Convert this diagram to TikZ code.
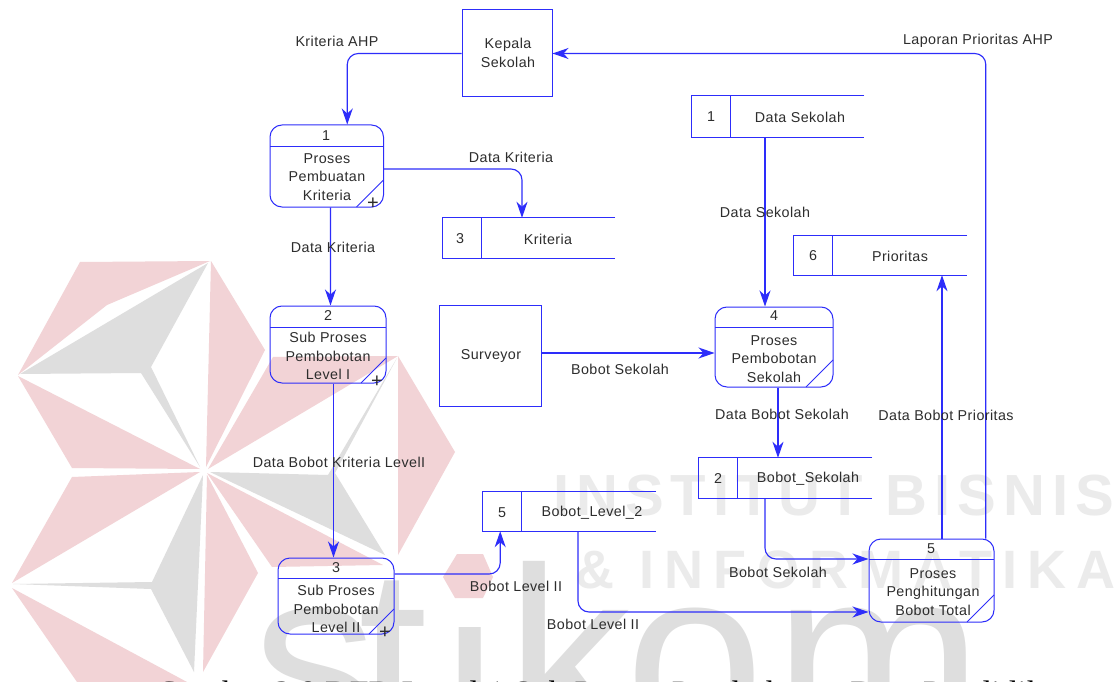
\documentclass[tikz,border=0pt]{standalone}
\usepackage{fontspec}
\setmainfont[LetterSpace=3]{Liberation Sans}
\newfontfamily\capfont{Liberation Serif}
\newfontfamily\wmbold[LetterSpace=12]{Liberation Sans Bold}
\newfontfamily\wmboldb[LetterSpace=19]{Liberation Sans Bold}
\newfontfamily\wmbig{Liberation Sans}
\usetikzlibrary{arrows.meta,fit}
\definecolor{dfd}{RGB}{45,45,250}
\definecolor{txt}{RGB}{45,45,45}
\definecolor{wmpink}{RGB}{242,211,214}
\definecolor{wmgray}{RGB}{222,222,222}
\definecolor{wmtext}{RGB}{235,235,235}
\tikzset{
  lbl/.style={text=txt,inner sep=0pt,font=\fontsize{14.3}{18.4}\selectfont,align=center},
  proc/.style={draw=dfd,line width=1pt,rounded corners=12pt,inner sep=0pt},
  ext/.style={draw=dfd,line width=1pt,inner sep=0pt},
  storebox/.style={inner sep=0pt},
  part/.style={draw=dfd,line width=1pt},
  flow/.style={draw=dfd,line width=1.15pt,rounded corners=11pt,-{Stealth[length=16pt,width=11pt,inset=5pt]}},
  pinkp/.style={fill=wmpink},
  grayp/.style={fill=wmgray},
  plusn/.style={text=txt,inner sep=0pt,font=\fontsize{20}{20}\selectfont},
  wmletter/.style={anchor=base west,inner sep=0pt,text=wmgray,font=\wmbig\fontsize{250}{250}\selectfont}
}
\newcommand{\Proc}[8]{% name x1 y1 x2 y2 yline unused diagonal size
  \node[proc,fit={(#2,#3)(#4,#5)}] (#1) {};
  \coordinate (#1h1) at (#2,#6);
  \coordinate (#1h2) at (#4,#6);
  \coordinate (#1d1) at ({#4-#8},#5);
  \coordinate (#1d2) at (#4,{#5-#8});
  \draw[part] (#1h1) -- (#1h2);
  \draw[part] (#1d1) -- (#1d2);
}
\newcommand{\Store}[6]{% name x1 y1 x2 y2 xdiv
  \node[storebox,fit={(#2,#3)(#4,#5)}] (#1) {};
  \coordinate (#1d1) at (#6,#3);
  \coordinate (#1d2) at (#6,#5);
  \draw[part] (#1.north east) -- (#1.north west) -- (#1.south west) -- (#1.south east);
  \draw[part] (#1d1) -- (#1d2);
}
\begin{document}
\begin{tikzpicture}[x=1pt,y=-1pt]
\useasboundingbox (0,0) rectangle (1117,682);
\clip (0,0) rectangle (1117,682);
\fill[white] (0,0) rectangle (1117,682);
% watermark: star
\fill[pinkp] (80,262) -- (210,261) -- (107,305) -- (18,375) -- cycle;
\fill[grayp] (208,263) -- (20,374) -- (141,373) -- (200,467) -- (151,367) -- cycle;
\fill[pinkp] (18,376) -- (200,469) -- (72,468) -- cycle;
\fill[pinkp] (211,261) -- (265,350) -- (206,467) -- cycle;
\fill[pinkp] (273,357) -- (398,356) -- (208,469) -- cycle;
\fill[grayp] (397,358) -- (335,473) -- (385,555) -- (210,472) -- (328,475) -- cycle;
\fill[pinkp] (398,356) -- (455,452) -- (398,555) -- cycle;
\fill[pinkp] (207,473) -- (383,565) -- (272,567) -- cycle;
\fill[pinkp] (207,475) -- (258,573) -- (203,672) -- cycle;
\fill[grayp] (203,475) -- (152,582) -- (13,584) -- (151,589) -- (194,672) -- cycle;
\fill[pinkp] (200,472) -- (72,477) -- (12,583) -- cycle;
\fill[pinkp] (12,588) -- (187,682) -- (77,682) -- cycle;
\fill[pinkp] (457,554) -- (483,554) -- (493,577) -- (483,598) -- (455,598) -- (443,577) -- cycle;
% watermark: words
\node[wmletter] (wms) at (252,742) {s};
\node[wmletter] (wmt) at (358,742) {t};
\begin{scope}
  \clip (440,627) rectangle (500,682);
  \node[wmletter] (wmi) at (442,742) {i};
\end{scope}
\node[wmletter] (wmk) at (506,742) {k};
\node[wmletter] (wmo) at (625,742) {o};
\node[wmletter] (wmm) at (774,742) {m};
\node[anchor=base west,inner sep=0pt,text=wmtext] (wmline1) at (553,515) {\wmbold\fontsize{58}{58}\selectfont INSTITUT BISNIS};
\node[anchor=base west,inner sep=0pt,text=wmtext] (wmline2) at (575,588) {\wmboldb\fontsize{54}{54}\selectfont \& INFORMATIKA};
% caption, cut by the page edge
\node[anchor=base west,inner sep=0pt,text=black] (caption) at (156,704) {\capfont\fontsize{34}{34}\selectfont Gambar 3.8 DFD Level 1 Sub Proses Pembobotan Data Pendidikan};
% external entities
\node[ext,fit={(462,10)(552,97)}] (kepala) {};
\node[lbl] (kepalat) at (508,53) {Kepala\\Sekolah};
\node[ext,fit={(439,305)(541,406)}] (surveyor) {};
\node[lbl] (surveyort) at (491,356) {Surveyor};
% processes
\Proc{pa}{270}{125}{383.5}{207}{147}{0}{27}
\Proc{pb}{270}{306}{386}{383}{327}{0}{25}
\Proc{pc}{278}{558}{394}{634}{578}{0}{25}
\Proc{pd}{715}{307}{833}{387}{327}{0}{27}
\Proc{pe}{869}{539}{994}{622}{559}{0}{27}
\node[lbl] (pan) at (326,136) {1};
\node[lbl] (pat) at (327,177) {Proses\\Pembuatan\\Kriteria};
\node[plusn] (pap) at (373,204) {+};
\node[lbl] (pbn) at (328,316) {2};
\node[lbl] (pbt) at (328,356) {Sub Proses\\Pembobotan\\Level I};
\node[plusn] (pbp) at (377,382) {+};
\node[lbl] (pcn) at (336,568) {3};
\node[lbl] (pct) at (336,609) {Sub Proses\\Pembobotan\\Level II};
\node[plusn] (pcp) at (385,633) {+};
\node[lbl] (pdn) at (774,316) {4};
\node[lbl] (pdt) at (774,359) {Proses\\Pembobotan\\Sekolah};
\node[lbl] (pen) at (931,549) {5};
\node[lbl] (pet) at (933,592) {Proses\\Penghitungan\\Bobot Total};
% data stores
\Store{sa}{692}{96}{864}{137}{730}
\Store{sb}{699}{458}{872}{498}{737}
\Store{sc}{443}{218}{615}{258}{481}
\Store{sd}{483}{492}{656}{531}{521}
\Store{se}{794}{236}{967}{275}{832}
\node[lbl] (san) at (711,117) {1};
\node[lbl] (sat) at (800,117) {Data Sekolah};
\node[lbl] (sbn) at (718,479) {2};
\node[lbl] (sbt) at (808,479) {Bobot\_Sekolah};
\node[lbl] (scn) at (460,239) {3};
\node[lbl] (sct) at (548,239) {Kriteria};
\node[lbl] (sdn) at (502,513) {5};
\node[lbl] (sdt) at (592,513) {Bobot\_Level\_2};
\node[lbl] (sen) at (813,256) {6};
\node[lbl] (set) at (900,256) {Prioritas};
% connectors
\draw[flow] (kepala.west) -| ([xshift=20.5pt]pa.north);
\draw[flow] ([xshift=54.3pt]pe.north) |- (kepala.east);
\draw[flow] ([yshift=-3pt]pa.east) -| ([xshift=-7pt]sc.north);
\draw[flow] ([xshift=3.7pt]pa.south) -- ([xshift=2.5pt]pb.north);
\draw[flow] ([xshift=5.5pt]pb.south) -- ([xshift=-2.5pt]pc.north);
\draw[flow] ([yshift=22pt]pc.east) -| ([xshift=-156pt]sd.south east);
\draw[flow] ([xshift=8.5pt]sd.south) |- ([yshift=-31.5pt]pe.west);
\draw[flow] ([xshift=-20.5pt]sb.south) |- ([yshift=21.5pt]pe.west);
\draw[flow] ([xshift=-13pt]sa.south) -- ([xshift=-9pt]pd.north);
\draw[flow] ([yshift=2.5pt]surveyor.east) -- ([yshift=-6pt]pd.west);
\draw[flow] ([xshift=4pt]pd.south) -- ([xshift=-7.5pt]sb.north);
\draw[flow] ([xshift=10.5pt]pe.north) -- ([xshift=61.5pt]se.south);
% connector labels
\node[lbl] (la) at (337,41) {Kriteria AHP};
\node[lbl] (lb) at (978,41) {Laporan Prioritas AHP};
\node[lbl] (lc) at (511,157) {Data Kriteria};
\node[lbl] (ld) at (333,247) {Data Kriteria};
\node[lbl] (le) at (339,462) {Data Bobot Kriteria LevelI};
\node[lbl] (lf) at (516,586) {Bobot Level II};
\node[lbl] (lg) at (593,624) {Bobot Level II};
\node[lbl] (lh) at (778,572) {Bobot Sekolah};
\node[lbl] (li) at (765,212) {Data Sekolah};
\node[lbl] (lj) at (620,369) {Bobot Sekolah};
\node[lbl] (lk) at (782,414) {Data Bobot Sekolah};
\node[lbl] (ll) at (946,415) {Data Bobot Prioritas};
\end{tikzpicture}
\end{document}
